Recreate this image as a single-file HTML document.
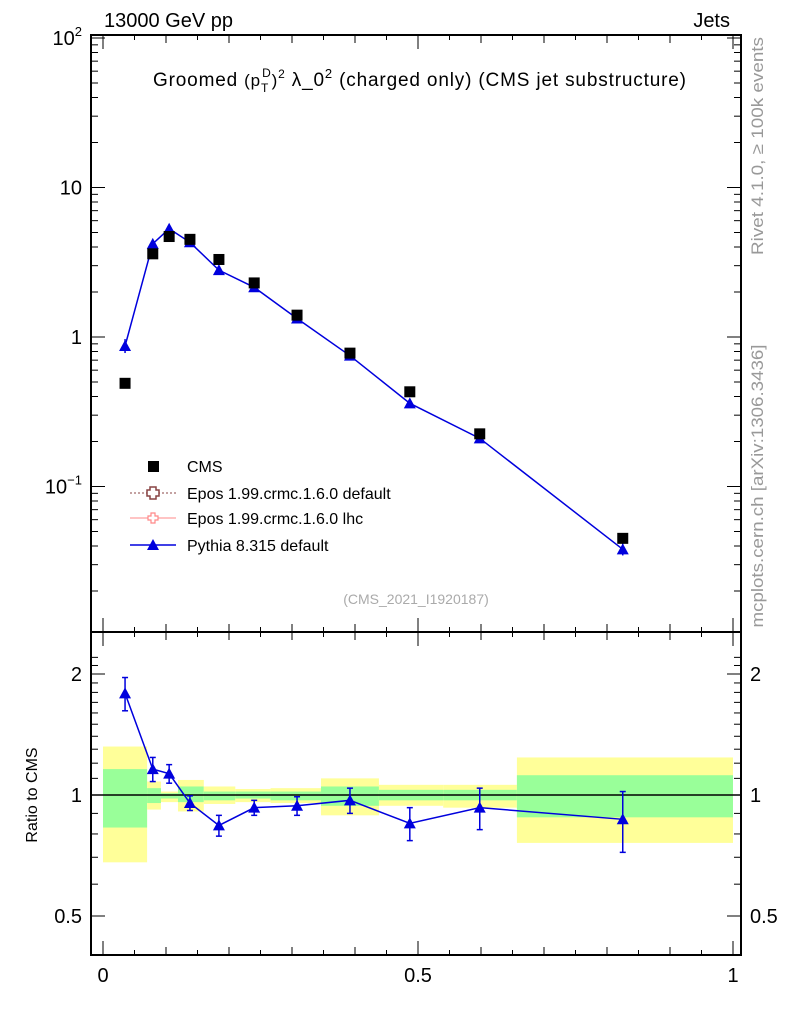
<!DOCTYPE html>
<html><head><meta charset="utf-8"><style>
body{margin:0;background:#fff;}
svg{display:block;font-family:"Liberation Sans",sans-serif;}
</style></head><body>
<svg id="c" width="786" height="1024" xmlns="http://www.w3.org/2000/svg"></svg>
<script>
const xVals=[0.035,0.079,0.105,0.138,0.184,0.240,0.308,0.392,0.487,0.598,0.825];
const cmsVals=[0.49,3.6,4.7,4.5,3.3,2.3,1.4,0.78,0.43,0.225,0.045];
const pyVals=[0.87,4.2,5.3,4.3,2.8,2.15,1.33,0.75,0.36,0.21,0.038];
const ratioVals=[1.79,1.16,1.13,0.955,0.84,0.93,0.94,0.97,0.85,0.93,0.87];
const ratioErr=[0.17,0.08,0.06,0.04,0.05,0.04,0.05,0.07,0.08,0.11,0.15];
const binEdges=[0,0.07,0.092,0.119,0.16,0.21,0.266,0.346,0.438,0.54,0.657,1.0];
const yelUp=[1.32,1.08,1.02,1.09,1.05,1.035,1.04,1.10,1.06,1.06,1.24];
const yelDn=[0.68,0.92,0.96,0.91,0.95,0.96,0.955,0.89,0.94,0.93,0.76];
const grnUp=[1.16,1.04,1.01,1.05,1.02,1.02,1.02,1.05,1.03,1.03,1.12];
const grnDn=[0.83,0.955,0.98,0.96,0.97,0.98,0.97,0.94,0.97,0.97,0.88];

const S=document.getElementById('c');const NS='http://www.w3.org/2000/svg';
function mk(t,a,p){const e=document.createElementNS(NS,t);for(const k in a)e.setAttribute(k,a[k]);(p||S).appendChild(e);return e;}
const X=v=>103+v*630;
const Y=v=>337-149.5*Math.log10(v);
const R=v=>795-121*Math.log2(v);
const L=91,Rt=741,T=35,M=632,B=955;

const bands=mk('g',{});
for(let i=0;i<yelUp.length;i++){
 const x0=X(binEdges[i]),x1=X(binEdges[i+1]);
 const y=mk('rect',{x:x0,y:R(yelUp[i]),width:x1-x0,height:R(yelDn[i])-R(yelUp[i]),fill:'#ffff99'},bands);
 
 const g=mk('rect',{x:x0,y:R(grnUp[i]),width:x1-x0,height:R(grnDn[i])-R(grnUp[i]),fill:'#99ff99'},bands);
 
}
mk('line',{x1:L,x2:Rt,y1:R(1),y2:R(1),stroke:'#000','stroke-width':1.5});

const f1=mk('rect',{x:L,y:T,width:Rt-L,height:M-T,fill:'none',stroke:'#000','stroke-width':2});

const f2=mk('rect',{x:L,y:M,width:Rt-L,height:B-M,fill:'none',stroke:'#000','stroke-width':2});


for(let i=0;i<=20;i++){const v=i*0.05,x=X(v);const len=i%10==0?14:(i%2==0?8:5);
 [T,M].forEach(y0=>mk('line',{x1:x,x2:x,y1:y0,y2:y0+len,stroke:'#000'}));
 [M,B].forEach(y0=>mk('line',{x1:x,x2:x,y1:y0,y2:y0-len,stroke:'#000'}));}
[['0',0],['0.5',0.5],['1',1]].forEach(([t,v])=>{const e=mk('text',{x:X(v),y:982,'font-size':20,'text-anchor':'middle'});e.textContent=t;});

for(let d=-2;d<2;d++)for(let m=1;m<10;m++){const v=m*Math.pow(10,d),y=Y(v);if(y>M||y<T)continue;const len=m==1?14:7;
 mk('line',{x1:L,x2:L+len,y1:y,y2:y,stroke:'#000'});mk('line',{x1:Rt,x2:Rt-len,y1:y,y2:y,stroke:'#000'});}
mk('line',{x1:L,x2:L+14,y1:Y(100),y2:Y(100),stroke:'#000'});mk('line',{x1:Rt,x2:Rt-14,y1:Y(100),y2:Y(100),stroke:'#000'});
function ylab(html,y){const e=mk('text',{x:82,y:y+7,'font-size':20,'text-anchor':'end'});e.innerHTML=html;}
ylab('10<tspan dy="-9" font-size="13">2</tspan>',Y(100));ylab('10',Y(10));ylab('1',Y(1));ylab('10<tspan dy="-9" font-size="13">−1</tspan>',Y(0.1));

for(let v=0.5;v<=2.3;v+=0.1){const y=R(v);if(y<M||y>B)continue;const maj=[0.5,1,2].some(q=>Math.abs(q-v)<1e-6);const len=maj?14:7;
 mk('line',{x1:L,x2:L+len,y1:y,y2:y,stroke:'#000'});mk('line',{x1:Rt,x2:Rt-len,y1:y,y2:y,stroke:'#000'});}
[['2',2],['1',1],['0.5',0.5]].forEach(([t,v])=>{[[82,'end'],[750,'start']].forEach(([x,a])=>{const e=mk('text',{x:x,y:R(v)+7,'font-size':20,'text-anchor':a});e.textContent=t;});});

const pl=mk('polyline',{points:xVals.map((x,i)=>X(x)+','+Y(pyVals[i])).join(' '),fill:'none',stroke:'#0000dd','stroke-width':1.5});

function tri(x,y,n){const t=mk('polygon',{points:`${x},${y-6} ${x-6},${y+5} ${x+6},${y+5}`,fill:'#0000dd'});}
xVals.forEach((x,i)=>{const cx=X(x),cy=Y(pyVals[i]);const e=Y(pyVals[i]*(1-0.1*ratioErr[i]/0.05*0.3))-cy;
 mk('line',{x1:cx,x2:cx,y1:cy-e,y2:cy+e,stroke:'#0000dd','stroke-width':1.5});tri(cx,cy,'pythia-point');});
xVals.forEach((x,i)=>{const r=mk('rect',{x:X(x)-5.5,y:Y(cmsVals[i])-5.5,width:11,height:11,fill:'#000'});});

const rl=mk('polyline',{points:xVals.map((x,i)=>X(x)+','+R(ratioVals[i])).join(' '),fill:'none',stroke:'#0000dd','stroke-width':1.5});

xVals.forEach((x,i)=>{const cx=X(x);const y1=R(ratioVals[i]+ratioErr[i]),y2=R(ratioVals[i]-ratioErr[i]);
 mk('line',{x1:cx,x2:cx,y1:y1,y2:y2,stroke:'#0000dd','stroke-width':1.5});
 mk('line',{x1:cx-3,x2:cx+3,y1:y1,y2:y1,stroke:'#0000dd','stroke-width':1.5});
 mk('line',{x1:cx-3,x2:cx+3,y1:y2,y2:y2,stroke:'#0000dd','stroke-width':1.5});
 tri(cx,R(ratioVals[i]),'ratio-point');});

const lg=mk('g',{});
mk('rect',{x:148,y:461,width:11,height:11,fill:'#000'},lg);
mk('line',{x1:130,x2:176,y1:493,y2:493,stroke:'#884444','stroke-dasharray':'2,2'},lg);
mk('path',{d:'M150,487h6v3h3v6h-3v3h-6v-3h-3v-6h3z',fill:'#fff',stroke:'#884444','stroke-width':1.5},lg);
mk('line',{x1:130,x2:176,y1:518,y2:518,stroke:'#ff8888'},lg);
mk('path',{d:'M151,513h4v3h3v4h-3v3h-4v-3h-3v-4h3z',fill:'#fff',stroke:'#ff8888','stroke-width':1.2},lg);
mk('line',{x1:130,x2:176,y1:545,y2:545,stroke:'#0000dd','stroke-width':1.5},lg);
mk('polygon',{points:'153,539 147,550 159,550',fill:'#0000dd'},lg);
[['CMS',472],['Epos 1.99.crmc.1.6.0 default',499],['Epos 1.99.crmc.1.6.0 lhc',524],['Pythia 8.315 default',551]].forEach(([t,y])=>{const e=mk('text',{x:187,y:y,'font-size':16},lg);e.textContent=t;});

function txt(t,a,n){const e=mk('text',a);e.innerHTML=t;return e;}
txt('13000 GeV pp',{x:104,y:27,'font-size':20},'energy-label');
txt('Jets',{x:730,y:27,'font-size':20,'text-anchor':'end'},'process-label');
txt('Groomed <tspan font-size="17">(p<tspan dy="6" font-size="12">T</tspan><tspan dy="-15" dx="-7" font-size="12">D</tspan><tspan dy="9">)</tspan><tspan dy="-8" font-size="12">2</tspan></tspan><tspan dy="8"> λ_0</tspan><tspan dy="-8" font-size="13">2</tspan><tspan dy="8">  (charged only) (CMS jet substructure)</tspan>',{x:153,y:86,'font-size':19,textLength:533,lengthAdjust:'spacing'},'plot-title');
txt('(CMS_2021_I1920187)',{x:416,y:604,'font-size':14,fill:'#aaa','text-anchor':'middle'},'analysis-id');
txt('Ratio to CMS',{x:0,y:0,'font-size':16,'text-anchor':'middle',transform:'translate(37,795) rotate(-90)'},'ratio-axis-title');
txt('Rivet 4.1.0, ≥ 100k events',{x:0,y:0,'font-size':17,fill:'#999','text-anchor':'middle',textLength:218,lengthAdjust:'spacingAndGlyphs',transform:'translate(763,146) rotate(-90)'},'rivet-label');
txt('mcplots.cern.ch [arXiv:1306.3436]',{x:0,y:0,'font-size':17,fill:'#999','text-anchor':'middle',textLength:283,lengthAdjust:'spacingAndGlyphs',transform:'translate(763,486) rotate(-90)'},'mcplots-label');
</script>
</body></html>
